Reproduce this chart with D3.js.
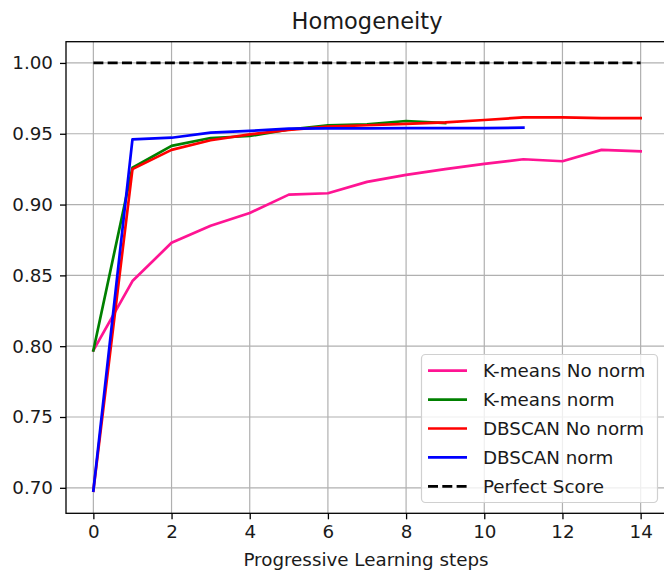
<!DOCTYPE html>
<html>
<head>
<meta charset="utf-8">
<script src="https://cdn.jsdelivr.net/npm/d3@7"></script>
<style>
  html, body { margin: 0; padding: 0; background: #fff; }
  svg { display: block; font-family: "DejaVu Sans", sans-serif; }
</style>
</head>
<body>
<svg id="chart" width="664" height="573"></svg>
<script>
// Learning steps on the x axis
const steps = [0, 1, 2, 3, 4, 5, 6, 7, 8, 9, 10, 11, 12, 13, 14];

// Homogeneity per step for each clustering setup
const kmeansNoNorm = [0.797, 0.846, 0.873, 0.885, 0.894, 0.907, 0.908, 0.916, 0.921, 0.925, 0.9287, 0.932, 0.9306, 0.9386, 0.9376];
const kmeansNorm   = [0.797, 0.926, 0.9414, 0.947, 0.9484, 0.953, 0.9559, 0.9566, 0.959, 0.9575];
const dbscanNoNorm = [0.698, 0.925, 0.9386, 0.9454, 0.9496, 0.9528, 0.955, 0.956, 0.957, 0.958, 0.9597, 0.9615, 0.9615, 0.961, 0.961];
const dbscanNorm   = [0.698, 0.946, 0.9472, 0.9508, 0.952, 0.9536, 0.9538, 0.9538, 0.954, 0.954, 0.954, 0.9543];
const perfectScore = [1.0, 1.0];
const perfectSteps = [0, 14];

const xTicks = [0, 2, 4, 6, 8, 10, 12, 14];
const yTicks = [0.70, 0.75, 0.80, 0.85, 0.90, 0.95, 1.00];

const seriesNames = ["K-means No norm", "K-means norm", "DBSCAN No norm", "DBSCAN norm", "Perfect Score"];
const seriesColors = ["#ff1493", "#008000", "#ff0000", "#0000ff", "#000000"];

const svg = d3.select("#chart");
const plotL = 66, plotR = 668, plotT = 41.7, plotB = 513.3;
const lineW = 2.7, dash = "10,4.3";
const textColor = "#1a1a1a";

const x = d3.scaleLinear().domain([-0.7, 14.7]).range([plotL, plotR]);
const y = d3.scaleLinear().domain([0.682, 1.015]).range([plotB, plotT]);

// grid
const grid = svg.append("g");
grid.selectAll("line.gx").data(xTicks).join("line")
  .attr("class", "gx")
  .attr("x1", d => x(d)).attr("x2", d => x(d))
  .attr("y1", plotT).attr("y2", plotB)
  .attr("stroke", "#b0b0b0").attr("stroke-width", 1.2);
grid.selectAll("line.gy").data(yTicks).join("line")
  .attr("class", "gy")
  .attr("y1", d => y(d)).attr("y2", d => y(d))
  .attr("x1", plotL).attr("x2", plotR)
  .attr("stroke", "#b0b0b0").attr("stroke-width", 1.2);

// series
const line = d3.line().x(d => x(d[0])).y(d => y(d[1]));
const series = [kmeansNoNorm, kmeansNorm, dbscanNoNorm, dbscanNorm];
series.forEach((vals, i) => {
  svg.append("path")
    .datum(vals.map((v, j) => [steps[j], v]))
    .attr("d", line)
    .attr("fill", "none")
    .attr("stroke", seriesColors[i])
    .attr("stroke-width", lineW)
    .attr("stroke-linejoin", "round")
    .attr("stroke-linecap", "square");
});
svg.append("path")
  .datum(perfectScore.map((v, j) => [perfectSteps[j], v]))
  .attr("d", line)
  .attr("fill", "none")
  .attr("stroke", "#000")
  .attr("stroke-width", lineW)
  .attr("stroke-dasharray", dash);

// axes
const xAxis = d3.axisBottom(x).tickValues(xTicks).tickFormat(d3.format("d")).tickSize(6).tickPadding(6);
const yAxis = d3.axisLeft(y).tickValues(yTicks).tickFormat(d3.format(".2f")).tickSize(6).tickPadding(7);

const gx = svg.append("g").attr("transform", `translate(0,${plotB})`).call(xAxis);
const gy = svg.append("g").attr("transform", `translate(${plotL},0)`).call(yAxis);
[gx, gy].forEach(g => {
  g.select(".domain").remove();
  g.selectAll(".tick line").attr("stroke", "#000").attr("stroke-width", 1.3);
  g.selectAll(".tick text").attr("fill", textColor).style("font-size", "18.3px").style("font-family", "DejaVu Sans");
});

// frame
svg.append("rect")
  .attr("x", plotL).attr("y", plotT)
  .attr("width", plotR - plotL).attr("height", plotB - plotT)
  .attr("fill", "none").attr("stroke", "#000").attr("stroke-width", 1.3);

// title and axis label
svg.append("text")
  .attr("x", 367).attr("y", 29)
  .attr("text-anchor", "middle")
  .style("font-size", "22.5px").attr("fill", textColor)
  .text("Homogeneity");
svg.append("text")
  .attr("x", 366).attr("y", 566)
  .attr("text-anchor", "middle")
  .style("font-size", "18.3px").attr("fill", textColor)
  .text("Progressive Learning steps");

// legend
const lg = svg.append("g");
lg.append("rect")
  .attr("x", 421.5).attr("y", 354.5)
  .attr("width", 236).attr("height", 148)
  .attr("rx", 4)
  .attr("fill", "rgba(255,255,255,0.8)")
  .attr("stroke", "#d0d0d0").attr("stroke-width", 1.2);
seriesNames.forEach((name, i) => {
  const yy = 370.7 + i * 28.9;
  lg.append("line")
    .attr("x1", 428).attr("x2", 467)
    .attr("y1", yy).attr("y2", yy)
    .attr("stroke", seriesColors[i]).attr("stroke-width", lineW)
    .attr("stroke-dasharray", i === 4 ? dash : null);
  lg.append("text")
    .attr("x", 483).attr("y", yy + 6.5)
    .style("font-size", "18.3px").attr("fill", textColor)
    .text(name);
});
</script>
</body>
</html>
